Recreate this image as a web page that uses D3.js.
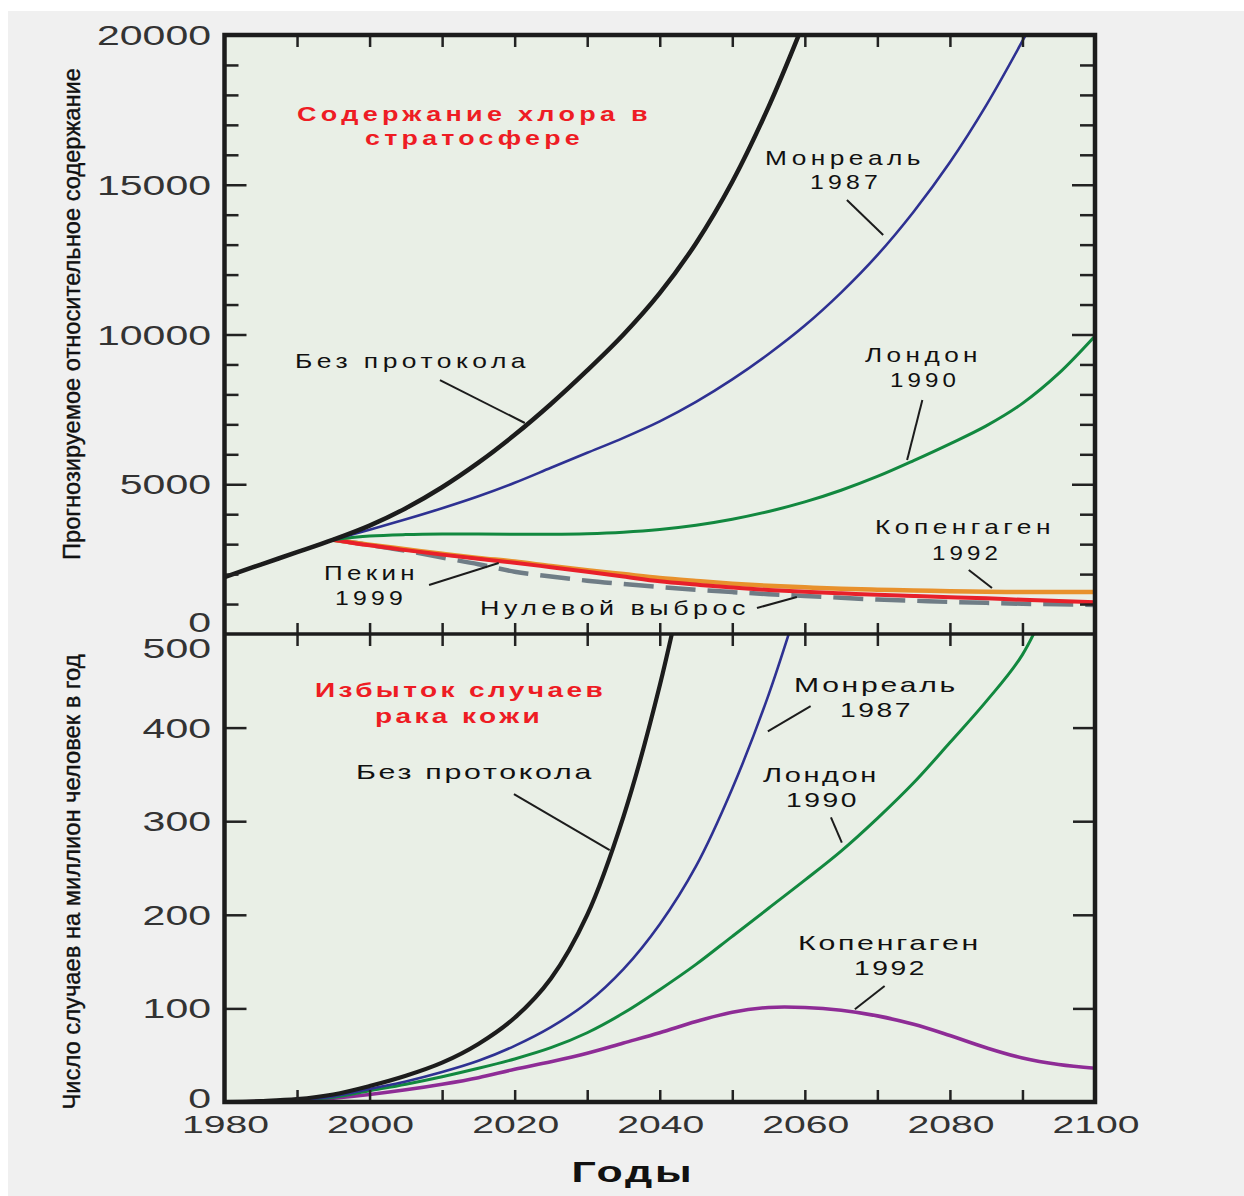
<!DOCTYPE html>
<html><head><meta charset="utf-8">
<script src="https://cdn.jsdelivr.net/npm/d3@7"></script>
<style>body{margin:0;background:#fff}svg{display:block}</style>
</head><body>
<script>
// ---------------- DATA ----------------
const years = [1980,1985,1990,1995,2000,2005,2010,2015,2020,2025,2030,2035,2040,2045,2050,2055,2060,2065,2070,2075,2080,2085,2090,2095,2100];

// Top panel: projected relative chlorine content
const clNoProtocol  = [1900,2320,2730,3150,3620,4200,4900,5720,6650,7680,8800,10000,11380,13050,15100,17600,20500,null,null,null,null,null,null,null,null];
const clMontreal    = [null,null,null,3150,3480,3830,4200,4600,5050,5550,6050,6550,7100,7750,8500,9350,10300,11400,12650,14100,15750,17650,19800,22100,null];
const clLondon      = [null,null,null,3150,3270,3320,3340,3340,3330,3330,3350,3400,3490,3630,3830,4090,4410,4800,5260,5790,6350,6950,7700,8700,9950];
const clCopenhagen  = [null,null,null,3150,2980,2830,2680,2540,2420,2270,2130,2000,1870,1770,1680,1610,1560,1510,1480,1450,1430,1410,1400,1400,1400];
const clBeijing     = [null,null,null,3150,2960,2800,2650,2510,2380,2230,2080,1920,1760,1650,1550,1470,1410,1360,1310,1270,1230,1190,1140,1100,1060];
const clZero        = [null,null,null,3150,2970,2780,2550,2330,2080,1920,1780,1670,1570,1480,1400,1330,1270,1210,1150,1110,1070,1040,1010,990,970];

// Bottom panel: excess skin cancer cases per million per year
const skNoProtocol  = [0,1,3,8,17,28,42,62,90,132,200,305,445,620,null,null,null,null,null,null,null,null,null,null,null];
const skMontreal    = [0,0.5,2,6,14,22,32,44,60,80,106,142,190,252,335,435,555,null,null,null,null,null,null,null,null];
const skLondon      = [0,0.5,2,5,12,19,27,36,46,58,74,95,120,147,177,207,237,268,303,341,384,428,478,560,null];
const skCopenhagen  = [0,0.5,1,4,8,13,19,26,35,43,52,63,74,86,96,101,101,98,92,83,71,58,47,40,36];

const xTickYears = [1980,2000,2020,2040,2060,2080,2100];
const topTickLabels = [20000,15000,10000,5000,0];
const botTickLabels = [500,400,300,200,100,0];

// --------------- LAYOUT ---------------
const W = 1244, H = 1196;
const L = 224.5, R = 1095, T = 35, M = 634, B = 1102;
const FONT = "'Liberation Sans', Arial, sans-serif";

const svg = d3.select("body").append("svg").attr("width", W).attr("height", H);
svg.append("rect").attr("x", 8).attr("y", 11).attr("width", W - 8).attr("height", H - 11).attr("fill", "#f0f0f0");
svg.append("rect").attr("x", L).attr("y", T).attr("width", R - L).attr("height", B - T).attr("fill", "#e9efe6");

const x = d3.scaleLinear().domain([1980, 2100]).range([L, R]);
const yTop = d3.scaleLinear().domain([0, 20000]).range([M, T]);
const yBot = d3.scaleLinear().domain([0, 500]).range([B, M]);

const defs = svg.append("defs");
defs.append("clipPath").attr("id", "clipTop").append("rect").attr("x", L).attr("y", T).attr("width", R - L).attr("height", M - T);
defs.append("clipPath").attr("id", "clipBot").append("rect").attr("x", L).attr("y", M).attr("width", R - L).attr("height", B - M);

function drawSeries(g, vals, yS, color, width, dash) {
  const pts = years.map((yr, i) => [yr, vals[i]]);
  const line = d3.line().defined(d => d[1] != null).x(d => x(d[0])).y(d => yS(d[1])).curve(d3.curveCatmullRom.alpha(0.5));
  g.append("path").attr("d", line(pts)).attr("fill", "none").attr("stroke", color)
    .attr("stroke-width", width).attr("stroke-linecap", "butt").attr("stroke-linejoin", "round")
    .attr("stroke-dasharray", dash || null);
}

const gTop = svg.append("g").attr("clip-path", "url(#clipTop)");
drawSeries(gTop, clZero, yTop, "#6f7d86", 4.5, "30,12");
drawSeries(gTop, clCopenhagen, yTop, "#e8912c", 4.5);
drawSeries(gTop, clBeijing, yTop, "#e8202a", 4);
drawSeries(gTop, clLondon, yTop, "#12883f", 3);
drawSeries(gTop, clMontreal, yTop, "#2e3192", 2.6);
drawSeries(gTop, clNoProtocol, yTop, "#1c1c1c", 4.5);

const gBot = svg.append("g").attr("clip-path", "url(#clipBot)");
drawSeries(gBot, skCopenhagen, yBot, "#8e2c96", 3.6);
drawSeries(gBot, skLondon, yBot, "#12883f", 3);
drawSeries(gBot, skMontreal, yBot, "#2e3192", 2.6);
drawSeries(gBot, skNoProtocol, yBot, "#1c1c1c", 4.2);

// --------------- AXES / TICKS ---------------
function styleTicks(g) {
  g.select(".domain").remove();
  g.selectAll("text").remove();
  g.selectAll("line").attr("stroke", "#222").attr("stroke-width", 2.5);
}
const decades = d3.range(1990, 2100, 10);
const minorTop = d3.range(1000, 20000, 1000).filter(v => v % 5000 !== 0);
const majorTop = [5000, 10000, 15000];
const botTicks = [100, 200, 300, 400];

svg.append("g").attr("transform", `translate(${L},0)`).call(d3.axisLeft(yTop).tickValues(minorTop).tickSize(-14)).call(styleTicks);
svg.append("g").attr("transform", `translate(${L},0)`).call(d3.axisLeft(yTop).tickValues(majorTop).tickSize(-22)).call(styleTicks);
svg.append("g").attr("transform", `translate(${R},0)`).call(d3.axisRight(yTop).tickValues(minorTop).tickSize(-15)).call(styleTicks);
svg.append("g").attr("transform", `translate(${R},0)`).call(d3.axisRight(yTop).tickValues(majorTop).tickSize(-23)).call(styleTicks);
svg.append("g").attr("transform", `translate(${L},0)`).call(d3.axisLeft(yBot).tickValues(botTicks).tickSize(-22)).call(styleTicks);
svg.append("g").attr("transform", `translate(${R},0)`).call(d3.axisRight(yBot).tickValues(botTicks).tickSize(-22)).call(styleTicks);

svg.append("g").attr("transform", `translate(0,${T})`).call(d3.axisBottom(x).tickValues(decades).tickSize(12)).call(styleTicks);
svg.append("g").attr("transform", `translate(0,${M - 11})`).call(d3.axisBottom(x).tickValues(decades).tickSize(23)).call(styleTicks);
svg.append("g").attr("transform", `translate(0,${B})`).call(d3.axisTop(x).tickValues(decades).tickSize(12)).call(styleTicks);

// frame
svg.append("rect").attr("x", L).attr("y", T).attr("width", R - L).attr("height", B - T)
  .attr("fill", "none").attr("stroke", "#1c1c1c").attr("stroke-width", 4.5);
svg.append("line").attr("x1", L).attr("x2", R).attr("y1", M).attr("y2", M).attr("stroke", "#1c1c1c").attr("stroke-width", 3.5);

// --------------- LABELS ---------------
function txt(s, xx, yy, o) {
  o = o || {};
  const t = svg.append("text").text(s).attr("x", xx).attr("y", yy)
    .attr("font-family", o.family || FONT).attr("font-size", o.size || 21)
    .attr("font-weight", o.weight || "normal").attr("fill", o.fill || "#111")
    .attr("text-anchor", o.anchor || "start");
  if (o.ls) t.attr("letter-spacing", o.ls);
  if (o.len) t.attr("textLength", o.len).attr("lengthAdjust", o.adjust || "spacingAndGlyphs");
  if (o.transform) t.attr("transform", o.transform);
  if (o.stroke) t.attr("stroke", o.fill || "#111").attr("stroke-width", o.stroke);
  return t;
}

// y tick labels
topTickLabels.forEach(v => {
  const s = String(v);
  const yy = v === 0 ? yTop(v) - 12 : yTop(v);
  txt(s, 211, yy + 10, {size: 28, fill: "#333", anchor: "end", len: s.length * 22.8});
});
botTickLabels.forEach(v => {
  const s = String(v);
  const yy = v === 500 ? yBot(v) + 14 : (v === 0 ? yBot(v) - 4 : yBot(v));
  txt(s, 211, yy + 10, {size: 28, fill: "#333", anchor: "end", len: s.length * 22.8});
});
// x tick labels
xTickYears.forEach(yr => {
  txt(String(yr), x(yr) + 1, 1133, {size: 24, fill: "#333", anchor: "middle", len: 87});
});
txt("Годы", 633, 1182, {size: 30, weight: "bold", fill: "#111", anchor: "middle", len: 123, ls: "2px"});

// y axis titles (condensed)
txt("Прогнозируемое относительное содержание", 0, 0, {size: 24, anchor: "middle", len: 492, transform: "translate(80,314) rotate(-90)", fill: "#111", stroke: 0.4});
txt("Число случаев на миллион человек в год", 0, 0, {size: 24, anchor: "middle", len: 455, transform: "translate(80,882) rotate(-90)", fill: "#111", stroke: 0.4});

// panel titles (red)
const RED = "#ee1c24";
txt("Содержание хлора в", 297, 121, {size: 21, weight: "bold", fill: RED, len: 355, ls: "0.16em"});
txt("стратосфере", 365, 145, {size: 21, weight: "bold", fill: RED, len: 219, ls: "0.16em"});
txt("Избыток случаев", 315, 697, {size: 21, weight: "bold", fill: RED, len: 291, ls: "0.12em"});
txt("рака кожи", 375, 723, {size: 21, weight: "bold", fill: RED, len: 168, ls: "0.12em"});

// series annotations, top
const aTop = {size: 21, ls: "0.17em"};
txt("Монреаль", 765, 165, Object.assign({len: 160}, aTop));
txt("1987", 810, 189, Object.assign({len: 72}, aTop));
txt("Без протокола", 295, 368, Object.assign({len: 235}, aTop));
txt("Пекин", 324, 580, Object.assign({len: 95}, aTop));
txt("1999", 335, 605, Object.assign({len: 72}, aTop));
txt("Нулевой выброс", 480, 615, Object.assign({len: 270}, aTop));
txt("Лондон", 865, 362, Object.assign({len: 117}, aTop));
txt("1990", 890, 387, Object.assign({len: 70}, aTop));
txt("Копенгаген", 875, 534, Object.assign({len: 180}, aTop));
txt("1992", 932, 560, Object.assign({len: 70}, aTop));
// bottom
const aBot = {size: 21, ls: "0.09em"};
txt("Монреаль", 794, 692, Object.assign({len: 164}, aBot));
txt("1987", 840, 717, Object.assign({len: 73}, aBot));
txt("Без протокола", 356, 779, Object.assign({len: 238}, aBot));
txt("Лондон", 763, 782, Object.assign({len: 116}, aBot));
txt("1990", 786, 807, Object.assign({len: 73}, aBot));
txt("Копенгаген", 798, 950, Object.assign({len: 183}, aBot));
txt("1992", 854, 975, Object.assign({len: 73}, aBot));

// pointer lines in data coordinates [year, value]
const topPointers = [
  [[2065.8, 14490], [2070.8, 13320]],
  [[2009.7, 8480], [2021.4, 7045]],
  [[2008.2, 1636], [2017.8, 2371]],
  [[2053.4, 868], [2058.9, 1235]],
  [[2076.2, 7813], [2074.1, 5810]],
  [[2082.6, 2137], [2085.8, 1536]]
];
const botPointers = [
  [[2060.8, 423], [2054.9, 396]],
  [[2019.9, 329], [2033.1, 269]],
  [[2063.6, 304], [2065.1, 277]],
  [[2071.0, 124], [2066.9, 99]]
];
function pointer(p, yS) {
  svg.append("line").attr("x1", x(p[0][0])).attr("y1", yS(p[0][1])).attr("x2", x(p[1][0])).attr("y2", yS(p[1][1]))
    .attr("stroke", "#1c1c1c").attr("stroke-width", 2);
}
topPointers.forEach(p => pointer(p, yTop));
botPointers.forEach(p => pointer(p, yBot));
</script>
</body></html>
